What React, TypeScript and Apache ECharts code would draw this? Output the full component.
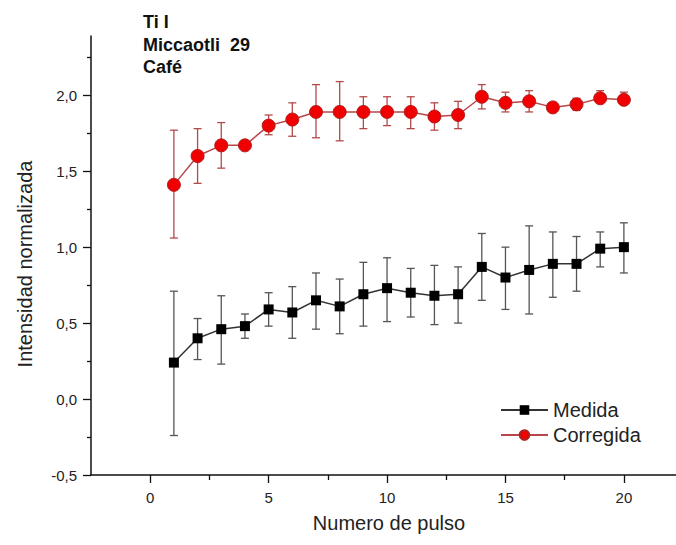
import React, { useEffect, useRef } from "react";
import * as echarts from "echarts";

const pulses = [1, 2, 3, 4, 5, 6, 7, 8, 9, 10, 11, 12, 13, 14, 15, 16, 17, 18, 19, 20];

const medida = [0.24, 0.40, 0.46, 0.48, 0.59, 0.57, 0.65, 0.61, 0.69, 0.73, 0.70, 0.68, 0.69, 0.87, 0.80, 0.85, 0.89, 0.89, 0.99, 1.00];
const medidaHigh = [0.71, 0.53, 0.68, 0.56, 0.70, 0.74, 0.83, 0.79, 0.90, 0.93, 0.86, 0.88, 0.87, 1.09, 1.00, 1.14, 1.10, 1.07, 1.10, 1.16];
const medidaLow = [-0.24, 0.26, 0.23, 0.40, 0.48, 0.40, 0.46, 0.43, 0.48, 0.51, 0.54, 0.49, 0.50, 0.65, 0.59, 0.56, 0.67, 0.71, 0.87, 0.83];

const corregida = [1.41, 1.60, 1.67, 1.67, 1.80, 1.84, 1.89, 1.89, 1.89, 1.89, 1.89, 1.86, 1.87, 1.99, 1.95, 1.96, 1.92, 1.94, 1.98, 1.97];
const corregidaHigh = [1.77, 1.78, 1.82, 1.68, 1.87, 1.95, 2.07, 2.09, 1.99, 1.99, 1.99, 1.95, 1.96, 2.07, 2.02, 2.03, 1.93, 1.98, 2.03, 2.02];
const corregidaLow = [1.06, 1.42, 1.52, 1.66, 1.74, 1.73, 1.72, 1.70, 1.78, 1.80, 1.78, 1.77, 1.78, 1.91, 1.89, 1.89, 1.91, 1.90, 1.95, 1.95];

const xMajorTicks = [0, 5, 10, 15, 20];
const xMinorTicks = [2.5, 7.5, 12.5, 17.5];
const yMajorTicks = [-0.5, 0, 0.5, 1.0, 1.5, 2.0];
const yMinorTicks = [-0.25, 0.25, 0.75, 1.25, 1.75, 2.25];

const titleLines = ["Ti I", "Miccaotli  29", "Café"];
const seriesNames = ["Medida", "Corregida"];

const FONT = "'Liberation Sans', Arial, sans-serif";

function errorBarSeries(low: number[], high: number[], color: string) {
  return {
    type: "custom",
    silent: true,
    z: 1,
    data: pulses.map((p, i) => [p, low[i], high[i]]),
    encode: { x: 0, y: [1, 2] },
    renderItem: (params: any, api: any) => {
      const x = api.value(0);
      const top = api.coord([x, api.value(2)]);
      const bot = api.coord([x, api.value(1)]);
      const hw = 4;
      const style = { stroke: color, lineWidth: 1.3 };
      return {
        type: "group",
        children: [
          { type: "line", shape: { x1: top[0], y1: top[1], x2: bot[0], y2: bot[1] }, style },
          { type: "line", shape: { x1: top[0] - hw, y1: top[1], x2: top[0] + hw, y2: top[1] }, style },
          { type: "line", shape: { x1: bot[0] - hw, y1: bot[1], x2: bot[0] + hw, y2: bot[1] }, style },
        ],
      };
    },
  };
}

export default function App() {
  const ref = useRef<HTMLDivElement>(null);

  useEffect(() => {
    if (!ref.current) return;
    const chart = echarts.init(ref.current, undefined, { renderer: "svg" });
    const axisLineStyle = { color: "#111", width: 1.5 };
    const fmt = (v: number) => v.toFixed(1).replace(".", ",");

    const xBase = {
      type: "value",
      min: -2.5,
      max: 22.2,
      position: "bottom",
      splitLine: { show: false },
    };
    const yBase = {
      type: "value",
      min: -0.5,
      max: 2.39,
      position: "left",
      splitLine: { show: false },
    };

    chart.setOption({
      animation: false,
      grid: { left: 91, right: 0, top: 36, bottom: 70 },
      xAxis: [
        {
          ...xBase,
          axisLine: { show: true, onZero: false, lineStyle: axisLineStyle },
          axisTick: { show: true, inside: false, length: 8, customValues: xMajorTicks, lineStyle: { color: "#111", width: 1.3 } },
          axisLabel: { customValues: xMajorTicks, margin: 15, fontFamily: FONT, fontSize: 15, color: "#222" },
        },
        {
          ...xBase,
          axisLine: { show: false, onZero: false },
          axisTick: { show: true, inside: false, length: 5, customValues: xMinorTicks, lineStyle: { color: "#111", width: 1.3 } },
          axisLabel: { show: false },
        },
      ],
      yAxis: [
        {
          ...yBase,
          axisLine: { show: true, onZero: false, lineStyle: axisLineStyle },
          axisTick: { show: true, inside: false, length: 8, customValues: yMajorTicks, lineStyle: { color: "#111", width: 1.3 } },
          axisLabel: { customValues: yMajorTicks, margin: 14, formatter: fmt, fontFamily: FONT, fontSize: 15, color: "#222" },
        },
        {
          ...yBase,
          axisLine: { show: false, onZero: false },
          axisTick: { show: true, inside: false, length: 4, customValues: yMinorTicks, lineStyle: { color: "#111", width: 1.3 } },
          axisLabel: { show: false },
        },
      ],
      legend: {
        data: seriesNames,
        orient: "vertical",
        left: 500,
        top: 400,
        padding: 0,
        itemWidth: 47,
        itemHeight: 12,
        itemGap: 5,
        textStyle: { fontFamily: FONT, fontSize: 20, color: "#222" },
      },
      graphic: [
        ...titleLines.map((t, i) => ({
          type: "text",
          left: 143,
          top: 13 + i * 22.5,
          style: { text: t, font: `bold 18px ${FONT}`, fill: "#111" },
        })),
        {
          type: "text",
          x: 25,
          y: 264,
          rotation: Math.PI / 2,
          style: { text: "Intensidad normalizada", font: `20px ${FONT}`, fill: "#222", align: "center", verticalAlign: "middle" },
        },
        {
          type: "text",
          x: 389,
          y: 523,
          style: { text: "Numero de pulso", font: `20px ${FONT}`, fill: "#222", align: "center", verticalAlign: "middle" },
        },
      ],
      series: [
        errorBarSeries(medidaLow, medidaHigh, "#555"),
        errorBarSeries(corregidaLow, corregidaHigh, "#b24a4a"),
        {
          name: "Medida",
          type: "line",
          z: 3,
          data: pulses.map((p, i) => [p, medida[i]]),
          symbol: "rect",
          symbolSize: 10,
          itemStyle: { color: "#000" },
          lineStyle: { color: "#333", width: 1.5 },
        },
        {
          name: "Corregida",
          type: "line",
          z: 3,
          data: pulses.map((p, i) => [p, corregida[i]]),
          symbol: "circle",
          symbolSize: 13,
          itemStyle: { color: "#f00000", borderColor: "#b02020", borderWidth: 1 },
          lineStyle: { color: "#b8464a", width: 1.5 },
        },
      ],
    });
    return () => chart.dispose();
  }, []);

  return <div ref={ref} style={{ position: "fixed", left: 0, top: 0, width: 676, height: 545, background: "#fff" }} />;
}
